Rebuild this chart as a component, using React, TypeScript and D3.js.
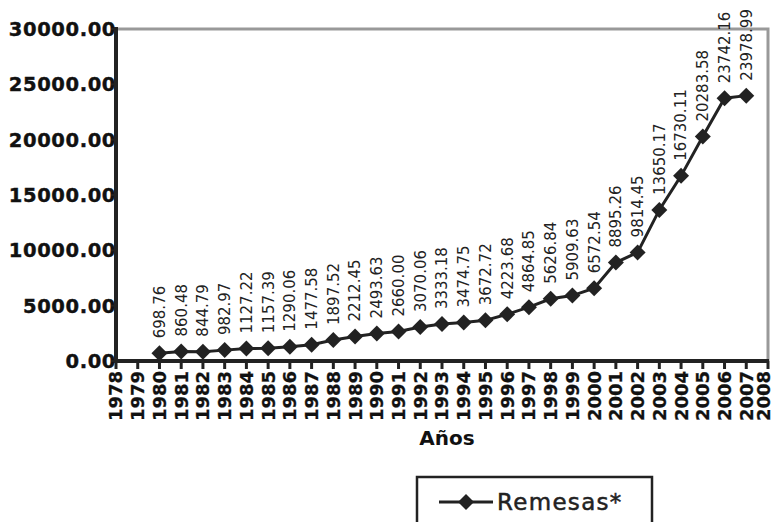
import React from "react";
import * as d3 from "d3";

const years = [1980,1981,1982,1983,1984,1985,1986,1987,1988,1989,1990,1991,1992,1993,1994,1995,1996,1997,1998,1999,2000,2001,2002,2003,2004,2005,2006,2007];
const remesas = [698.76,860.48,844.79,982.97,1127.22,1157.39,1290.06,1477.58,1897.52,2212.45,2493.63,2660.00,3070.06,3333.18,3474.75,3672.72,4223.68,4864.85,5626.84,5909.63,6572.54,8895.26,9814.45,13650.17,16730.11,20283.58,23742.16,23978.99];
const yTicks = [0,5000,10000,15000,20000,25000,30000];
const xTickYears = d3.range(1978, 2009);
const seriesName = "Remesas*";
const axisTitle = "Años";

export default function App() {
  const left = 116, right = 768, top = 29, bottom = 361;
  const x = d3.scaleLinear().domain([1978, 2008]).range([left, right]);
  const y = d3.scaleLinear().domain([0, 30000]).range([bottom, top]);
  const pts = years.map((yr, i) => [x(yr), y(remesas[i])] as [number, number]);
  const line = d3.line()(pts) || "";
  const diamond = (cx: number, cy: number, r: number) =>
    `M${cx},${cy - r}L${cx + r},${cy}L${cx},${cy + r}L${cx - r},${cy}Z`;
  const font = "'DejaVu Sans', Verdana, sans-serif";
  return (
    <svg width={776} height={522} style={{ position: "absolute", left: 0, top: 0, background: "#fff" }}>
      <rect x={0} y={0} width={776} height={522} fill="#fff" />
      {/* frame top/right */}
      <path d={`M${left},${top}H${right}V${bottom}`} fill="none" stroke="#999" strokeWidth={3} />
      {/* y tick labels */}
      {yTicks.map((t) => (
        <text key={t} x={116} y={y(t)} dy="0.36em" textAnchor="end" fontFamily={font} fontWeight="bold" fontSize={19.5} fill="#111" stroke="#111" strokeWidth={0.4} letterSpacing={0.6}>
          {t.toFixed(2)}
        </text>
      ))}
      {yTicks.map((t) => (
        <line key={"yt" + t} x1={left - 5} x2={left} y1={y(t)} y2={y(t)} stroke="#222" strokeWidth={2} />
      ))}
      {/* x ticks */}
      {xTickYears.map((yr) => (
        <line key={"xt" + yr} x1={x(yr)} x2={x(yr)} y1={bottom} y2={bottom + 8} stroke="#222" strokeWidth={3} />
      ))}
      {xTickYears.map((yr) => (
        <text key={"xl" + yr} transform={`translate(${Math.min(x(yr), 764)},${371}) rotate(-90)`} dy="0.36em" textAnchor="end" fontFamily={font} fontWeight="bold" fontSize={18} fill="#111" stroke="#111" strokeWidth={0.3}>
          {yr}
        </text>
      ))}
      {/* axes */}
      <line x1={left} x2={left} y1={top - 2} y2={bottom + 1} stroke="#222" strokeWidth={4} />
      <line x1={left - 2} x2={right + 1} y1={bottom} y2={bottom} stroke="#222" strokeWidth={4} />
      {/* series */}
      <path d={line} fill="none" stroke="#222" strokeWidth={3} />
      {pts.map(([cx, cy], i) => (
        <path key={"m" + i} d={diamond(cx, cy, 8)} fill="#222" />
      ))}
      {pts.map(([cx, cy], i) => (
        <text key={"dl" + i} transform={`translate(${cx},${cy - 15}) rotate(-90)`} dy="0.36em" textAnchor="start" fontFamily={font} fontSize={15} fill="#222">
          {remesas[i].toFixed(2)}
        </text>
      ))}
      {/* axis title */}
      <text x={447} y={445} textAnchor="middle" fontFamily={font} fontWeight="bold" fontSize={20} fill="#111">
        {axisTitle}
      </text>
      {/* legend */}
      <rect x={417} y={477} width={235} height={60} fill="none" stroke="#222" strokeWidth={2.5} />
      <line x1={439} x2={493} y1={502} y2={502} stroke="#222" strokeWidth={3} />
      <path d={diamond(466, 502, 8)} fill="#222" />
      <text x={497} y={510} fontFamily={font} fontSize={23} fill="#222" stroke="#222" strokeWidth={0.5} letterSpacing={1.3}>
        {seriesName}
      </text>
    </svg>
  );
}
